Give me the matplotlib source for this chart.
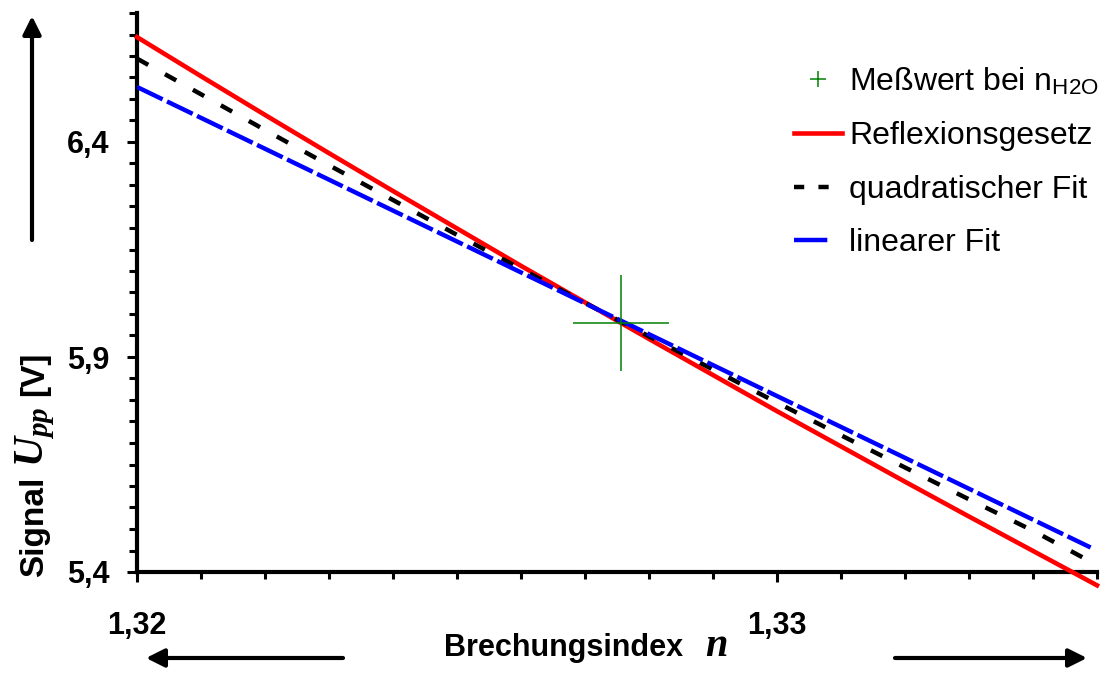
import matplotlib
matplotlib.use("Agg")
import matplotlib.pyplot as plt
from matplotlib.lines import Line2D
from matplotlib.patches import FancyArrowPatch
from matplotlib.ticker import MultipleLocator, FuncFormatter

plt.rcParams['font.family'] = ['Liberation Sans', 'DejaVu Sans']
plt.rcParams['mathtext.fontset'] = 'custom'
plt.rcParams['mathtext.it'] = 'Liberation Serif:italic:bold'
plt.rcParams['mathtext.rm'] = 'Liberation Sans'
plt.rcParams['mathtext.bf'] = 'Liberation Sans:bold'
plt.rcParams['mathtext.sf'] = 'Liberation Sans'

# ---- data ----
n_values = [1.320, 1.321, 1.322, 1.323, 1.324, 1.325, 1.326, 1.327,
            1.328, 1.329, 1.330, 1.331, 1.332, 1.333, 1.334, 1.335]
reflexion = [6.644, 6.553, 6.463, 6.374, 6.286, 6.199, 6.112, 6.027,
             5.942, 5.858, 5.774, 5.692, 5.610, 5.529, 5.449, 5.369]
quad_n = [1.320, 1.321, 1.322, 1.323, 1.324, 1.325, 1.326, 1.327,
          1.328, 1.329, 1.330, 1.331, 1.332, 1.333, 1.334, 1.3349]
quad_fit = [6.594, 6.511, 6.428, 6.346, 6.265, 6.184, 6.105, 6.026,
            5.948, 5.871, 5.794, 5.718, 5.643, 5.569, 5.496, 5.424]
lin_n = [1.320, 1.3349]
lin_fit = [6.528, 5.457]
meas_n = [1.32756]
meas_u = [5.980]

labels = ['Meßwert bei n$_{\\mathrm{H2O}}$', 'Reflexionsgesetz',
          'quadratischer Fit', 'linearer Fit']
yticks_major = [5.4, 5.9, 6.4]
xticks_major = [1.32, 1.33]

W, H = 1103, 686
fig = plt.figure(figsize=(W / 100, H / 100), dpi=100)
ax = fig.add_axes([137 / W, 1 - 572 / H, 960 / W, 559 / H])

ax.plot(n_values, reflexion, color='#ff0000', lw=3.3, clip_on=False, zorder=3)
ax.plot(quad_n, quad_fit, color='black', lw=3.2, dashes=(2.9, 4.3), zorder=4)
ax.plot(lin_n, lin_fit, color='#0000ff', lw=3.2, dashes=(6.4, 1.1), zorder=5)
ax.plot(meas_n, meas_u, marker='+', markersize=69, mew=1.1, color='#008000',
        ls='none', zorder=6)

ax.set_xlim(1.32, 1.335)
ax.set_ylim(5.4, 6.7)

for s in ['top', 'right']:
    ax.spines[s].set_visible(False)
for s in ['left', 'bottom']:
    ax.spines[s].set_linewidth(3)

ax.set_xticks(xticks_major)
ax.set_yticks(yticks_major)
ax.xaxis.set_minor_locator(MultipleLocator(0.001))
ax.yaxis.set_minor_locator(MultipleLocator(0.05))
ax.xaxis.set_major_formatter(FuncFormatter(lambda v, p: ('%.2f' % v).replace('.', ',')))
ax.yaxis.set_major_formatter(FuncFormatter(lambda v, p: ('%.1f' % v).replace('.', ',')))
ax.tick_params(axis='both', which='both', direction='out', width=2.2, color='black')
ax.tick_params(axis='x', which='major', length=7, pad=21)
ax.tick_params(axis='x', which='minor', length=5)
ax.tick_params(axis='y', which='major', length=7, pad=13)
ax.tick_params(axis='y', which='minor', length=6)
for lab in ax.get_xticklabels() + ax.get_yticklabels():
    lab.set_fontsize(22)
    lab.set_fontweight('bold')

renderer = fig.canvas.get_renderer()

# y axis label, composed of pieces along a common baseline (reading bottom to top)
pieces_y = [('Signal', 24), ('$U_{pp}$', 30), ('[V]', 24)]
ypos = 577.0
for txt, fs in pieces_y:
    t = fig.text(43 / W, 1 - ypos / H, txt, rotation=90, rotation_mode='anchor',
                 ha='left', va='baseline', fontsize=fs, fontweight='bold')
    bb = t.get_window_extent(renderer)
    ypos = H - bb.y1 - 10

# x axis label
t1 = fig.text(444 / W, 1 - 656 / H, 'Brechungsindex', fontsize=22,
              fontweight='bold', ha='left', va='baseline')
bb = t1.get_window_extent(renderer)
fig.text((bb.x1 + 22) / W, 1 - 656 / H, '$n$', fontsize=29,
         ha='left', va='baseline')

# arrows
arrow_kw = dict(transform=fig.transFigure, arrowstyle='-|>,head_length=11,head_width=5.5',
                lw=3, color='black', mutation_scale=1, shrinkA=0, shrinkB=0)
fig.add_artist(FancyArrowPatch((32 / W, 1 - 240 / H), (32 / W, 1 - 16 / H), **arrow_kw))
fig.add_artist(FancyArrowPatch((343 / W, 1 - 658 / H), (146 / W, 1 - 658 / H), **arrow_kw))
fig.add_artist(FancyArrowPatch((895 / W, 1 - 658 / H), (1087 / W, 1 - 658 / H), **arrow_kw))

# legend
handles = [
    Line2D([], [], marker='+', markersize=12, mew=1.1, color='#008000', ls='none'),
    Line2D([], [], color='#ff0000', lw=3.3),
    Line2D([], [], color='black', lw=3.2, dashes=(2.3, 3.2)),
    Line2D([], [], color='#0000ff', lw=3.2, dashes=(7.5, 3.8)),
]
ax.legend(handles, labels, loc='upper left', bbox_to_anchor=(794 / W, 1 - 66 / H),
          bbox_transform=fig.transFigure, frameon=False, fontsize=23,
          handlelength=1.5, handletextpad=0.22, labelspacing=0.74, borderpad=0,
          borderaxespad=0)

fig.savefig('out.png', dpi=100)
